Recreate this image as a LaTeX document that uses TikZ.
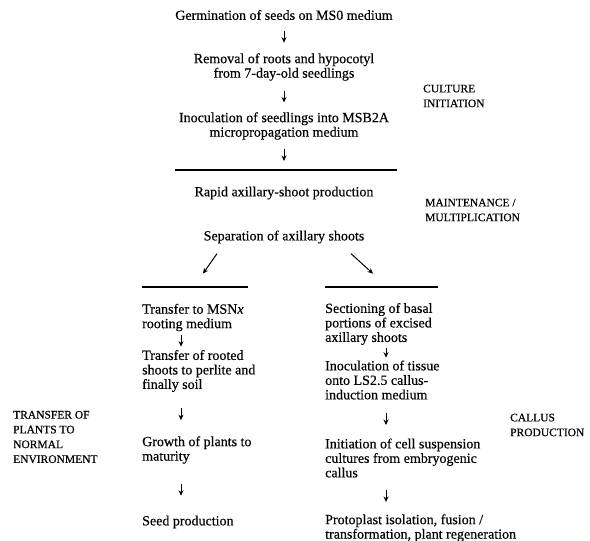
\documentclass[tikz,border=0pt]{standalone}
\usepackage{fontspec}
\setmainfont{Liberation Serif}[FakeBold=0.4]
\usetikzlibrary{arrows.meta,calc}
\tikzset{
  stage/.style={align=center, inner sep=0pt, font=\fontsize{14}{14.5}\selectfont},
  lstage/.style={align=left, anchor=west, inner sep=0pt, font=\fontsize{14}{14.5}\selectfont},
  phase/.style={align=left, anchor=west, inner sep=0pt, font=\fontsize{11.5}{14.8}\selectfont},
  dn/.style={-{Stealth[length=5.5pt,width=5pt]}, line width=1pt},
  rule/.style={line width=1.1pt}
}
\begin{document}
\begin{tikzpicture}[x=1pt,y=-1pt]
\useasboundingbox (0,0) rectangle (590,541);

\node[stage] (germ) at (284,15) {Germination of seeds on MS0 medium};
\node[stage] (remove) at (284,67) {Removal of roots and hypocotyl\\from 7-day-old seedlings};
\node[stage] (inoc) at (284,126) {Inoculation of seedlings into MSB2A\\micropropagation medium};
\coordinate (topl) at (175,170);
\coordinate (topr) at (397,170);
\node[stage] (rapid) at (284,193) {Rapid axillary-shoot production};
\node[stage] (sep) at (284,237) {Separation of axillary shoots};
\node[phase] (cult) at (423,96) {CULTURE\\INITIATION};
\node[phase] (maint) at (425,210) {MAINTENANCE /\\MULTIPLICATION};

\draw[dn] ($(germ.south)!0.5!(remove.north)$) +(0,-6) -- +(0,6);
\draw[dn] ($(remove.south)!0.5!(inoc.north)$) +(0,-6) -- +(0,6);
\draw[dn] ($(inoc.south)!0.5!(inoc.south |- topl)$) +(0,-6) -- +(0,6);
\draw[rule] (topl) -- (topr);
\draw[dn] ([xshift=-67pt,yshift=-10pt]sep.south) -- ++(-14,20);
\draw[dn] ([xshift=67pt,yshift=-10pt]sep.south) -- ++(22,20);

% left branch
\coordinate (leftl) at (142,287);
\coordinate (leftr) at (248,287);
\draw[rule] (leftl) -- (leftr);
\node[lstage] (root) at (142,317.5) {Transfer to MSN\textit{x}\\rooting medium};
\node[lstage] (soil) at (142,371) {Transfer of rooted\\shoots to perlite and\\finally soil};
\node[lstage] (grow) at (142,450) {Growth of plants to\\maturity};
\node[lstage] (seed) at (142,522) {Seed production};
\node[phase] (transfer) at (13,437) {TRANSFER OF\\PLANTS TO\\NORMAL\\ENVIRONMENT};
\draw[dn] ($(root.south west)!0.5!(soil.north west)$) +(39,-6) -- +(39,6);
\draw[dn] ($(soil.south west)!0.5!(grow.north west)$) +(39,-6) -- +(39,6);
\draw[dn] ($(grow.south west)!0.5!(seed.north west)$) +(39,-6) -- +(39,6);

% right branch
\coordinate (rightl) at (325,287);
\coordinate (rightr) at (438,287);
\draw[rule] (rightl) -- (rightr);
\node[lstage] (cut) at (325,324) {Sectioning of basal\\portions of excised\\axillary shoots};
\node[lstage] (callus) at (325,380) {Inoculation of tissue\\onto LS2.5 callus-\\induction medium};
\node[lstage] (susp) at (325,458) {Initiation of cell suspension\\cultures from embryogenic\\callus};
\node[lstage] (proto) at (325,528) {Protoplast isolation, fusion /\\transformation, plant regeneration};
\node[phase] (callp) at (510,425) {CALLUS\\PRODUCTION};
\draw[dn] ($(cut.south west)!0.5!(callus.north west)$) +(61,-5) -- +(61,5);
\draw[dn] ($(callus.south west)!0.5!(susp.north west)$) +(61,-6) -- +(61,6);
\draw[dn] ($(susp.south west)!0.5!(proto.north west)$) +(61,-6) -- +(61,6);
\end{tikzpicture}
\end{document}
